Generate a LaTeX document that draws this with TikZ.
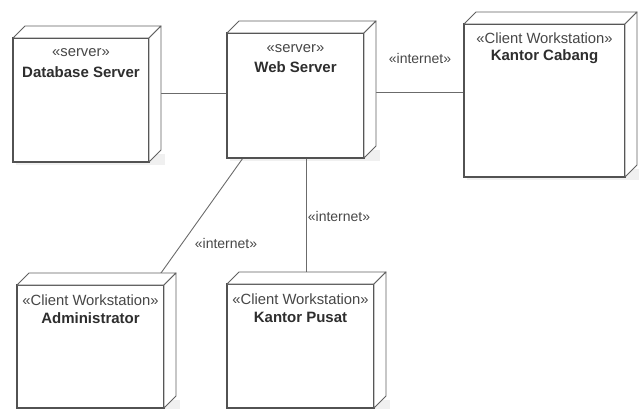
\documentclass[tikz,border=0pt]{standalone}
\usepackage{fontspec}
\setmainfont{Liberation Sans}
\usetikzlibrary{calc}
\pgfdeclarelayer{background}
\pgfsetlayers{background,main}

\tikzset{
  frontbox/.style={draw=black!68, line width=1.3pt, fill=white, anchor=north west,
                   inner sep=0pt, outer sep=0pt},
  face/.style={draw=black!62, line width=0.9pt, fill=white, line join=round},
  shade/.style={fill=black!6, draw=none},
  link/.style={draw=black!58, line width=0.9pt},
  stereo/.style={text=black!72, font=\fontsize{14.8}{17}\selectfont, inner sep=0pt},
  nodename/.style={text=black!82, font=\fontsize{15}{18}\selectfont\bfseries, inner sep=0pt},
  linklabel/.style={text=black!72, font=\fontsize{14}{16}\selectfont, inner sep=0pt}
}

% side and top faces of a 3D node box, drawn around its front face
\newcommand\boxfaces[1]{%
  \draw[face] (#1.north west) -- ++(12pt,12pt) -- ([shift={(12pt,12pt)}]#1.north east)
              -- (#1.north east) -- cycle;
  \draw[face] (#1.north east) -- ([shift={(12pt,12pt)}]#1.north east)
              -- ([shift={(12pt,12pt)}]#1.south east) -- (#1.south east) -- cycle;
}
\newcommand\boxshade[1]{%
  \fill[shade] ([shift={(3pt,-3pt)}]#1.south west) rectangle ([shift={(16pt,8pt)}]#1.south east);
}

\begin{document}
\begin{tikzpicture}[x=1pt, y=-1pt]
  \useasboundingbox (0,0) rectangle (639,409);

  % front faces
  \node[frontbox, minimum width=136pt, minimum height=124pt] (db)  at (13,38)  {};
  \node[frontbox, minimum width=137pt, minimum height=125pt] (web) at (227,33) {};
  \node[frontbox, minimum width=161pt, minimum height=153pt] (cab) at (464,24) {};
  \node[frontbox, minimum width=147pt, minimum height=123pt] (adm) at (17,285) {};
  \node[frontbox, minimum width=147pt, minimum height=124pt] (pus) at (227,284) {};

  \foreach \b in {db,web,cab,adm,pus}{\boxfaces{\b}}

  % shadows and communication paths, kept behind the boxes
  \begin{pgfonlayer}{background}
    \foreach \b in {db,web,cab,adm,pus}{\boxshade{\b}}
    \draw[link] (db.center |- 0,93) -- (web.center |- 0,93);
    \draw[link] (web.center |- 0,92) -- (cab.center |- 0,92);
    \draw[link] ([xshift=16pt]web.south west) -- ([shift={(139pt,5pt)}]adm.north west);
    \draw[link] ([xshift=79pt]web.south west) -- ([xshift=79pt]web.south west |- pus.center);
  \end{pgfonlayer}

  % labels inside the nodes
  \node[stereo]   (dbs) at ([yshift=-15pt]db.north)  {«server»};
  \node[nodename] (dbn) at ([yshift=-34pt]db.north)  {Database Server};
  \node[stereo]   (wbs) at ([yshift=-16pt]web.north) {«server»};
  \node[nodename] (wbn) at ([yshift=-34pt]web.north) {Web Server};
  \node[stereo]   (cbs) at ([yshift=-14pt]cab.north) {«Client Workstation»};
  \node[nodename] (cbn) at ([yshift=-33pt]cab.north) {Kantor Cabang};
  \node[stereo]   (ads) at ([yshift=-15pt]adm.north) {«Client Workstation»};
  \node[nodename] (adn) at ([yshift=-33pt]adm.north) {Administrator};
  \node[stereo]   (pss) at ([yshift=-15pt]pus.north) {«Client Workstation»};
  \node[nodename] (psn) at ([yshift=-33pt]pus.north) {Kantor Pusat};

  % labels of the communication paths
  \node[linklabel] (l1) at (420,58)  {«internet»};
  \node[linklabel] (l2) at (226,243) {«internet»};
  \node[linklabel] (l3) at (339,216) {«internet»};
\end{tikzpicture}
\end{document}
